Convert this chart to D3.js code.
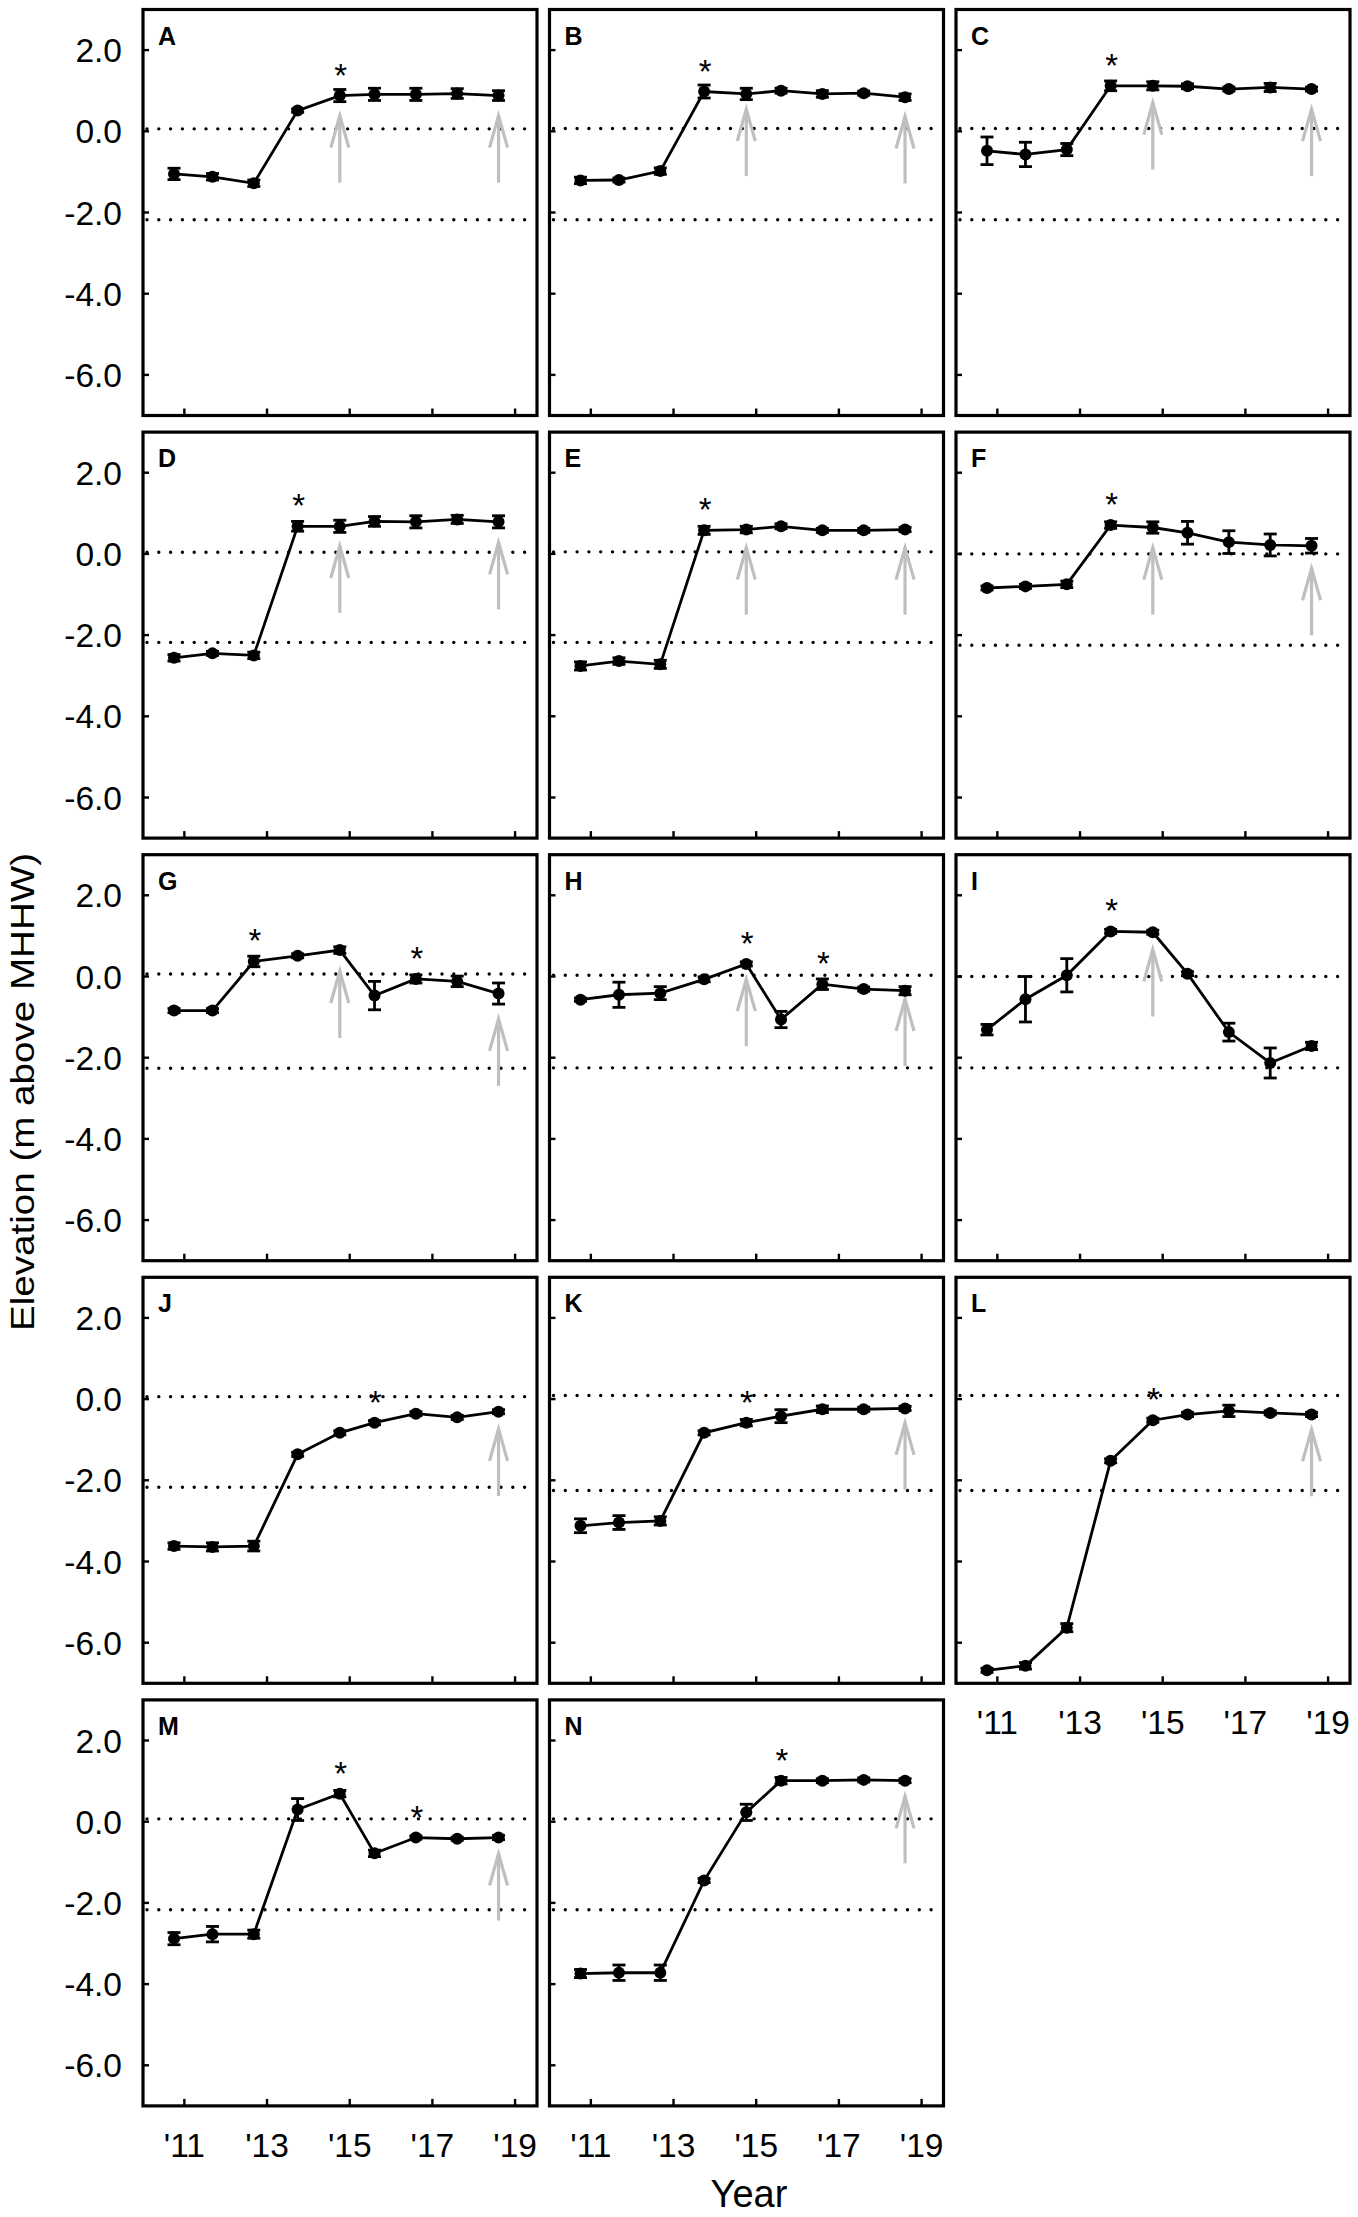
<!DOCTYPE html>
<html>
<head>
<meta charset="utf-8">
<script src="https://cdn.jsdelivr.net/npm/d3@7"></script>
<style>
  html, body { margin: 0; padding: 0; background: #fff; }
  svg { display: block; }
  text { font-family: "Liberation Sans", Arial, Helvetica, sans-serif; }
</style>
</head>
<body>
<svg id="chart" width="1358" height="2217"></svg>
<script>
// ---------- data ----------
const years = [2010.75, 2011.68, 2012.68, 2013.74, 2014.76, 2015.6, 2016.6, 2017.6, 2018.6];
const xTickYears = [2011, 2013, 2015, 2017, 2019];
const xTickLabels = ["'11", "'13", "'15", "'17", "'19"];
const yTicks = [2, 0, -2, -4, -6];
const yTickLabels = ["2.0", "0.0", "-2.0", "-4.0", "-6.0"];
const panelNames = ["A","B","C","D","E","F","G","H","I","J","K","L","M","N"];

const elevA = [-1.05,-1.12,-1.28,0.51,0.88,0.91,0.91,0.93,0.88];
const elevB = [-1.21,-1.20,-0.98,0.98,0.92,1.00,0.92,0.94,0.84];
const elevC = [-0.48,-0.57,-0.45,1.12,1.12,1.11,1.04,1.08,1.04];
const elevD = [-2.56,-2.45,-2.50,0.68,0.68,0.80,0.79,0.85,0.79];
const elevE = [-2.76,-2.64,-2.72,0.58,0.60,0.68,0.58,0.58,0.60];
const elevF = [-0.84,-0.80,-0.75,0.71,0.65,0.52,0.29,0.22,0.20];
const elevG = [-0.84,-0.84,0.37,0.51,0.65,-0.47,-0.06,-0.12,-0.42];
const elevH = [-0.57,-0.45,-0.41,-0.07,0.31,-1.06,-0.19,-0.31,-0.35];
const elevI = [-1.31,-0.56,0.03,1.11,1.09,0.07,-1.37,-2.13,-1.71];
const elevJ = [-3.62,-3.64,-3.62,-1.36,-0.83,-0.58,-0.36,-0.45,-0.31];
const elevK = [-3.12,-3.04,-3.00,-0.83,-0.58,-0.42,-0.25,-0.25,-0.23];
const elevL = [-6.68,-6.57,-5.63,-1.52,-0.52,-0.38,-0.29,-0.34,-0.38];
const elevM = [-2.88,-2.77,-2.77,0.30,0.69,-0.78,-0.39,-0.42,-0.39];
const elevN = [-3.74,-3.72,-3.72,-1.45,0.23,1.01,1.01,1.03,1.01];

const errA = [0.14,0.08,0.08,0.04,0.15,0.15,0.15,0.12,0.12];
const errB = [0.08,0.05,0.08,0.16,0.14,0.06,0.08,0.05,0.08];
const errC = [0.34,0.30,0.15,0.12,0.10,0.06,0.05,0.10,0.05];
const errD = [0.08,0.05,0.08,0.12,0.15,0.12,0.15,0.10,0.15];
const errE = [0.10,0.08,0.10,0.10,0.08,0.06,0.05,0.05,0.05];
const errF = [0.05,0.05,0.08,0.08,0.14,0.28,0.28,0.27,0.18];
const errG = [0.05,0.05,0.13,0.05,0.08,0.35,0.10,0.13,0.26];
const errH = [0.04,0.31,0.16,0.06,0.05,0.20,0.13,0.05,0.10];
const errI = [0.13,0.56,0.41,0.05,0.05,0.05,0.22,0.37,0.09];
const errJ = [0.08,0.10,0.12,0.05,0.05,0.05,0.05,0.05,0.05];
const errK = [0.17,0.17,0.10,0.05,0.08,0.16,0.08,0.05,0.05];
const errL = [0.05,0.08,0.10,0.05,0.05,0.05,0.14,0.05,0.05];
const errM = [0.15,0.19,0.10,0.27,0.08,0.08,0.04,0.04,0.05];
const errN = [0.10,0.19,0.19,0.05,0.20,0.08,0.05,0.05,0.05];

// indices of sampling dates marked with an asterisk
const starA = [4], starB = [3], starC = [3], starD = [3], starE = [3], starF = [3], starG = [2,6];
const starH = [4,6], starI = [3], starJ = [5], starK = [4], starL = [4], starM = [4,6], starN = [5];

// arrows: [sampling index, elevation of arrow tip]
const arrowA = [[4,0.41],[8,0.41]], arrowB = [[4,0.57],[8,0.39]], arrowC = [[4,0.73],[8,0.57]];
const arrowD = [[4,0.22],[8,0.31]], arrowE = [[4,0.18],[8,0.18]], arrowF = [[4,0.18],[8,-0.33]];
const arrowG = [[4,0.16],[8,-1.02]], arrowH = [[4,-0.04],[8,-0.53]], arrowI = [[4,0.69]];
const arrowJ = [[8,-0.71]], arrowK = [[8,-0.56]], arrowL = [[8,-0.72]], arrowM = [[8,-0.76]], arrowN = [[8,0.65]];

// reference levels (upper / lower dotted lines)
const upperLevel = [0.06,0.07,0.07,0.04,0.05,0.00,0.06,0.03,0.00,0.06,0.09,0.09,0.07,0.07];
const lowerLevel = [-2.18,-2.18,-2.18,-2.18,-2.18,-2.25,-2.26,-2.25,-2.25,-2.17,-2.25,-2.25,-2.17,-2.17];

const elevs = [elevA,elevB,elevC,elevD,elevE,elevF,elevG,elevH,elevI,elevJ,elevK,elevL,elevM,elevN];
const errs  = [errA,errB,errC,errD,errE,errF,errG,errH,errI,errJ,errK,errL,errM,errN];
const stars = [starA,starB,starC,starD,starE,starF,starG,starH,starI,starJ,starK,starL,starM,starN];
const arrows = [arrowA,arrowB,arrowC,arrowD,arrowE,arrowF,arrowG,arrowH,arrowI,arrowJ,arrowK,arrowL,arrowM,arrowN];

// ---------- layout ----------
const svg = d3.select("#chart");
const colLeft = [143, 549.5, 956];
const panelW = 394;
const rowTop0 = 9.5, rowStep = 422.6, panelH = 406;
const lastRowOf = {"L": true, "M": true, "N": true};

panelNames.forEach((name, i) => {
  const col = i % 3, row = Math.floor(i / 3);
  const left = colLeft[col], top = rowTop0 + row * rowStep;
  const x = d3.scaleLinear().domain([2010, 2019.53]).range([left, left + panelW]);
  const y = d3.scaleLinear().domain([-7, 3]).range([top + panelH, top]);
  const g = svg.append("g");

  // dotted reference lines
  [upperLevel[i], lowerLevel[i]].forEach(v => {
    g.append("line")
      .attr("x1", left + 4).attr("x2", left + panelW - 4)
      .attr("y1", y(v)).attr("y2", y(v))
      .attr("stroke", "#000").attr("stroke-width", 3.4)
      .attr("stroke-linecap", "round")
      .attr("stroke-dasharray", "0 11.8");
  });

  // gray arrows
  arrows[i].forEach(([idx, tip]) => {
    const ax = x(years[idx]), ay = y(tip);
    const ag = g.append("g").attr("stroke", "#bfbfbf").attr("stroke-width", 3.2).attr("fill", "none");
    ag.append("line").attr("x1", ax).attr("x2", ax).attr("y1", ay + 1).attr("y2", ay + 68);
    ag.append("path").attr("d", `M${ax - 9},${ay + 33} L${ax},${ay + 1} L${ax + 9},${ay + 33}`);
  });

  const pts = years.map((yr, k) => ({x: yr, v: elevs[i][k], e: errs[i][k]}));

  // connecting line
  g.append("path").datum(pts)
    .attr("d", d3.line().x(d => x(d.x)).y(d => y(d.v)))
    .attr("fill", "none").attr("stroke", "#000").attr("stroke-width", 2.8);

  // error bars
  const eb = g.append("g").attr("stroke", "#000").attr("stroke-width", 2.8);
  pts.forEach(d => {
    const cx = x(d.x), y1 = y(d.v + d.e), y2 = y(d.v - d.e);
    eb.append("line").attr("x1", cx).attr("x2", cx).attr("y1", y1).attr("y2", y2);
    eb.append("line").attr("x1", cx - 6.5).attr("x2", cx + 6.5).attr("y1", y1).attr("y2", y1);
    eb.append("line").attr("x1", cx - 6.5).attr("x2", cx + 6.5).attr("y1", y2).attr("y2", y2);
  });

  // markers
  g.selectAll("circle.pt").data(pts).enter().append("circle")
    .attr("cx", d => x(d.x)).attr("cy", d => y(d.v)).attr("r", 6).attr("fill", "#000");

  // asterisks
  stars[i].forEach(idx => {
    g.append("text")
      .attr("x", x(years[idx]) + 1).attr("y", y(elevs[i][idx]) - 28 + 19)
      .attr("text-anchor", "middle").attr("font-size", 33).attr("fill", "#000")
      .text("*");
  });

  // frame
  g.append("rect").attr("x", left).attr("y", top).attr("width", panelW).attr("height", panelH)
    .attr("fill", "none").attr("stroke", "#000").attr("stroke-width", 3.2);

  // inward ticks
  yTicks.forEach(t => {
    g.append("line").attr("x1", left).attr("x2", left + 6).attr("y1", y(t)).attr("y2", y(t))
      .attr("stroke", "#000").attr("stroke-width", 2.4);
  });
  xTickYears.forEach(t => {
    g.append("line").attr("x1", x(t)).attr("x2", x(t)).attr("y1", top + panelH).attr("y2", top + panelH - 7)
      .attr("stroke", "#000").attr("stroke-width", 2.4);
  });

  // panel letter
  g.append("text").attr("x", left + 15).attr("y", top + 35)
    .attr("font-size", 25).attr("font-weight", "bold").attr("fill", "#000").text(name);

  // y tick labels (first column)
  if (col === 0) {
    yTicks.forEach((t, k) => {
      g.append("text").attr("x", left - 21).attr("y", y(t)).attr("dy", "0.36em")
        .attr("text-anchor", "end").attr("font-size", 33.5).attr("fill", "#000").text(yTickLabels[k]);
    });
  }
  // x tick labels (bottom panel of each column)
  if (lastRowOf[name]) {
    xTickYears.forEach((t, k) => {
      g.append("text").attr("x", x(t)).attr("y", top + panelH + 51)
        .attr("text-anchor", "middle").attr("font-size", 33.5).attr("fill", "#000").text(xTickLabels[k]);
    });
  }
});

// axis titles
svg.append("text").attr("transform", "translate(34,1092) rotate(-90)")
  .attr("text-anchor", "middle").attr("font-size", 34).attr("fill", "#000")
  .attr("textLength", 478).attr("lengthAdjust", "spacingAndGlyphs")
  .text("Elevation (m above MHHW)");
svg.append("text").attr("x", 749).attr("y", 2207)
  .attr("text-anchor", "middle").attr("font-size", 38).attr("fill", "#000").text("Year");
</script>
</body>
</html>
